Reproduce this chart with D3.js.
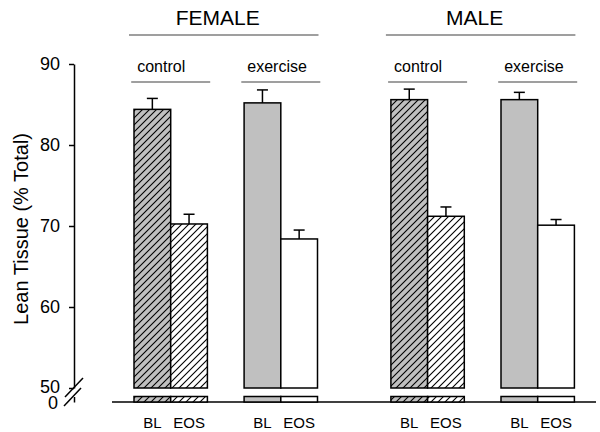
<!DOCTYPE html>
<html><head><meta charset="utf-8">
<script src="https://cdn.jsdelivr.net/npm/d3@7"></script>
<style>
html,body{margin:0;padding:0;background:#fff;}
svg text{font-family:"Liberation Sans",Arial,sans-serif;fill:#000;}
</style></head>
<body><svg id="chart" width="600" height="432"></svg>
<script>
const sexes = ["FEMALE", "MALE"];
const groups = ["control", "exercise"];
const timepoints = ["BL", "EOS"];
// order: F-control BL, EOS, F-exercise BL, EOS, M-control BL, EOS, M-exercise BL, EOS
const means  = [84.4, 70.25, 85.2, 68.4, 85.6, 71.2, 85.6, 70.1];
const errors = [1.35, 1.2, 1.6, 1.1, 1.3, 1.15, 0.9, 0.7];
const yTicks = [50, 60, 70, 80, 90];
const lowTick = [0];
const yTitle = "Lean Tissue (% Total)";

const svg = d3.select("#chart");

const bars = [];
sexes.forEach((s, si) => groups.forEach((g, gi) => timepoints.forEach((t, ti) => {
  const i = si * 4 + gi * 2 + ti;
  bars.push({sex: s, sexIdx: si, group: g, groupIdx: gi, tp: t, tpIdx: ti,
             slot: si * 7 + gi * 3 + ti, mean: means[i], err: errors[i]});
})));

const x = d3.scaleLinear().domain([0, 12]).range([134, 574.4]);
const bw = x(1) - x(0);
const y = d3.scaleLinear().domain([50, 90]).range([388, 64]);
const yLow = d3.scaleLinear().domain([0, 0.7]).range([402, 396.5]);

// patterns
const defs = svg.append("defs");
function hatch(id, bg) {
  const p = defs.append("pattern").attr("id", id).attr("patternUnits", "userSpaceOnUse")
    .attr("width", 7).attr("height", 7);
  p.append("rect").attr("width", 7).attr("height", 7).attr("fill", bg);
  p.append("path").attr("d", "M-1,8 L8,-1 M-4,4 L4,-4 M3,11 L11,3")
    .attr("stroke", "#000").attr("stroke-width", 1.1);
}
hatch("hGray", "#c0c0c0");
hatch("hWhite", "#ffffff");
function fillOf(d) {
  if (d.groupIdx === 0) return d.tpIdx === 0 ? "url(#hGray)" : "url(#hWhite)";
  return d.tpIdx === 0 ? "#c0c0c0" : "#ffffff";
}

// y axis (upper)
const ax = svg.append("g").attr("transform", "translate(74,0)")
  .call(d3.axisLeft(y).tickValues(yTicks).tickSize(5).tickSizeOuter(0).tickPadding(9));
ax.select(".domain").attr("stroke-width", 1.5);
ax.selectAll(".tick line").attr("stroke-width", 1.5);
ax.selectAll(".tick text").style("font-size", "18px").attr("font-family", null);
ax.selectAll(".tick text").filter(d => d === 50).attr("dy", "0.25em");

// lower axis bit
const axL = svg.append("g").attr("transform", "translate(74,0)")
  .call(d3.axisLeft(yLow).tickValues(lowTick).tickFormat(d3.format("d"))
    .tickSize(0).tickSizeOuter(0).tickPadding(16));
axL.select(".domain").attr("stroke-width", 1.5);
axL.selectAll(".tick text").style("font-size", "18px").attr("font-family", null)
  .attr("dy", "0.36em");

// break marks
svg.append("g").selectAll("line").data([0, 1]).join("line")
  .attr("x1", d => 65 - d).attr("y1", d => 397 + d * 9)
  .attr("x2", d => 83 - d * 2).attr("y2", d => 378 + d * 10)
  .attr("stroke", "#000").attr("stroke-width", 1.5);

// baseline
svg.append("line").attr("x1", 112).attr("x2", 596).attr("y1", yLow(0)).attr("y2", yLow(0))
  .attr("stroke", "#000").attr("stroke-width", 1.5);

// bars upper
svg.append("g").selectAll("rect").data(bars).join("rect")
  .attr("x", d => x(d.slot)).attr("width", bw)
  .attr("y", d => y(d.mean)).attr("height", d => y(50) - y(d.mean))
  .attr("fill", fillOf).attr("stroke", "#000").attr("stroke-width", 1.5);
// bars lower stubs
svg.append("g").selectAll("rect").data(bars).join("rect")
  .attr("x", d => x(d.slot)).attr("width", bw)
  .attr("y", yLow(0.7)).attr("height", yLow(0) - yLow(0.7))
  .attr("fill", fillOf).attr("stroke", "#000").attr("stroke-width", 1.5);

// error bars
const eb = svg.append("g").attr("stroke", "#000").attr("stroke-width", 1.5);
eb.selectAll("line.v").data(bars).join("line").attr("class", "v")
  .attr("x1", d => x(d.slot) + bw / 2).attr("x2", d => x(d.slot) + bw / 2)
  .attr("y1", d => y(d.mean)).attr("y2", d => y(d.mean + d.err));
eb.selectAll("line.c").data(bars).join("line").attr("class", "c")
  .attr("x1", d => x(d.slot) + bw / 2 - 5.5).attr("x2", d => x(d.slot) + bw / 2 + 5.5)
  .attr("y1", d => y(d.mean + d.err)).attr("y2", d => y(d.mean + d.err));

// x labels
svg.append("g").selectAll("text").data(bars).join("text")
  .attr("x", d => x(d.slot) + bw / 2).attr("y", 428)
  .attr("text-anchor", "middle").style("font-size", "15px").text(d => d.tp);

// group labels
const glabels = [];
sexes.forEach((s, si) => groups.forEach((g, gi) => glabels.push({s, si, g, gi, start: si * 7 + gi * 3})));
const gl = svg.append("g");
gl.selectAll("line").data(glabels).join("line")
  .attr("x1", d => (x(d.start) + x(d.start + 2)) / 2 - 39.5)
  .attr("x2", d => (x(d.start) + x(d.start + 2)) / 2 + 39.5)
  .attr("y1", 82).attr("y2", 82).attr("stroke", "#7f7f7f").attr("stroke-width", 1.3);
gl.selectAll("text").data(glabels).join("text")
  .attr("x", d => (x(d.start) + x(d.start + 2)) / 2 - 33.5)
  .attr("y", 72).style("font-size", "16px").text(d => d.g);

// sex labels
const sl = svg.append("g");
sl.selectAll("line").data(sexes).join("line")
  .attr("x1", (d, i) => x(i * 7) - 5).attr("x2", (d, i) => x(i * 7 + 5) + 1)
  .attr("y1", 35).attr("y2", 35).attr("stroke", "#7f7f7f").attr("stroke-width", 1.3);
sl.selectAll("text").data(sexes).join("text")
  .attr("x", (d, i) => (x(i * 7) + x(i * 7 + 5)) / 2 - 8)
  .attr("y", 25).attr("text-anchor", "middle").style("font-size", "21px").text(d => d);

// y title
svg.append("text").attr("transform", "translate(28,229) rotate(-90)")
  .attr("text-anchor", "middle").style("font-size", "20px").text(yTitle);
</script></body></html>
